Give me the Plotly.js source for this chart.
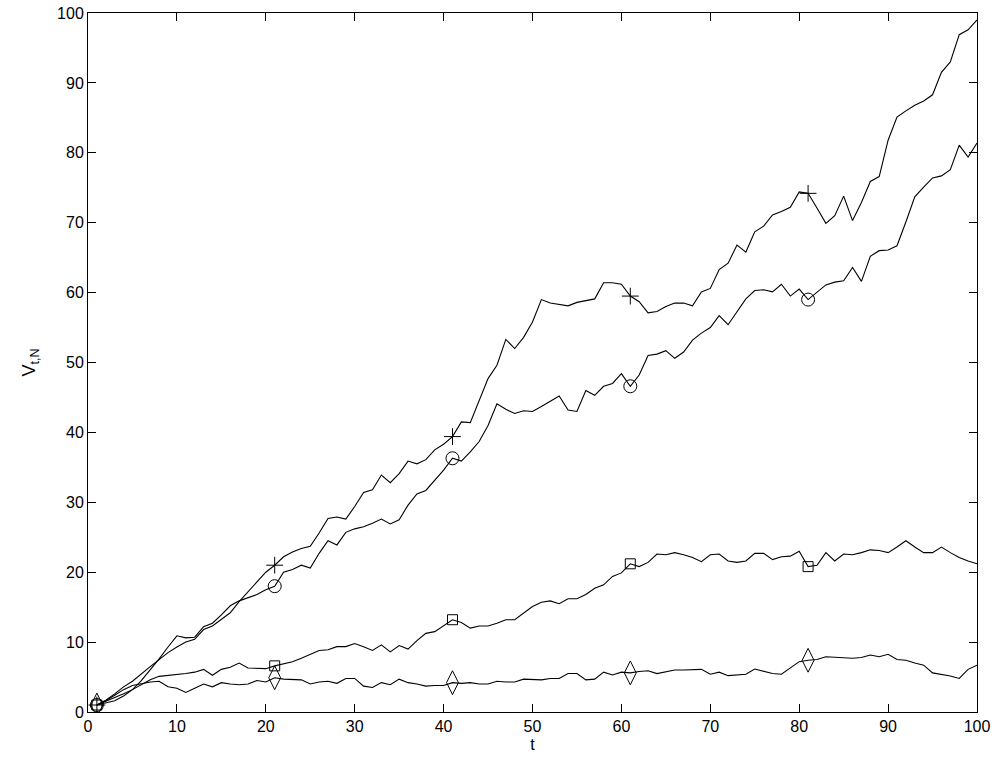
<!DOCTYPE html>
<html>
<head>
<meta charset="utf-8">
<script src="https://cdn.plot.ly/plotly-3.0.1.min.js"></script>
<style>html,body{margin:0;padding:0;background:#fff;}#chart{width:994px;height:761px;}</style>
</head>
<body>
<div id="chart"></div>
<script>
// time steps t = 1..100
var t = [];
for (var i = 1; i <= 100; i++) t.push(i);

// series with "+" marker
var seriesPlus = [1,1.7,2.6,3.6,4.4,5.5,6.5,7.5,8.5,9.3,10.0,10.4,11.8,12.3,13.2,14.2,15.8,17.2,18.5,20.0,
  21.0,22.2,22.9,23.4,23.7,25.6,27.7,27.9,27.6,29.4,31.4,31.8,33.9,32.8,34.1,35.9,35.5,36.1,37.5,38.3,
  39.4,41.5,41.4,44.6,47.7,49.6,53.3,52.0,53.6,55.8,59.0,58.5,58.3,58.1,58.6,58.9,59.1,61.4,61.4,61.2,
  59.5,58.7,57.1,57.3,58.0,58.5,58.5,58.1,60.1,60.6,63.3,64.2,66.8,65.8,68.7,69.5,71.1,71.6,72.2,74.4,
  74.2,72.1,69.9,71.0,73.8,70.3,72.9,75.9,76.6,81.8,85.1,86.0,86.8,87.4,88.3,91.5,93.0,96.9,97.6,99.0];

// series with "o" marker
var seriesCircle = [1,1.3,1.6,2.3,3.2,4.5,6.0,7.6,9.3,10.9,10.6,10.7,12.2,12.7,13.9,15.2,15.9,16.4,16.8,17.5,
  18.0,20.0,20.4,21.0,20.6,22.7,24.5,23.9,25.7,26.2,26.5,27.0,27.6,26.9,27.5,29.6,31.2,31.7,33.2,34.6,
  36.3,35.9,37.2,38.7,41.0,44.1,43.3,42.7,43.1,43.0,43.7,44.4,45.2,43.2,43.0,46.0,45.3,46.6,47.0,48.4,
  46.6,48.2,51.0,51.2,51.7,50.6,51.5,53.2,54.2,55.0,56.7,55.4,57.3,59.1,60.3,60.4,60.1,61.2,59.5,60.5,
  59.0,60.1,61.1,61.5,61.7,63.6,61.6,65.2,66.0,66.1,66.7,70.1,73.7,75.1,76.4,76.7,77.6,81.1,79.4,81.4];

// series with square marker
var seriesSquare = [1,1.5,2.0,2.6,3.2,3.9,4.6,5.1,5.2,5.3,5.5,5.7,6.1,5.25,6.1,6.4,7.0,6.3,6.2,6.2,
  6.6,6.9,7.2,7.7,8.25,8.8,8.9,9.35,9.35,9.8,9.35,8.8,9.6,8.6,9.5,9.0,10.2,11.25,11.5,12.3,
  13.2,12.8,12.0,12.3,12.3,12.7,13.2,13.2,14.1,15.1,15.7,15.9,15.5,16.2,16.2,16.8,17.7,18.2,19.4,19.9,
  21.2,20.8,21.4,22.6,22.5,22.8,22.5,22.1,21.5,22.5,22.6,21.6,21.4,21.6,22.7,22.7,21.8,22.2,22.3,23.0,
  20.8,21.0,22.8,21.6,22.6,22.5,22.8,23.2,23.1,22.8,23.6,24.5,23.6,22.8,22.8,23.6,22.8,22.1,21.6,21.2];

// series with diamond marker
var seriesDiamond = [1,1.6,2.4,3.2,3.8,4.1,4.3,4.4,3.6,3.4,2.8,3.4,4.0,3.6,4.2,4.0,3.9,4.0,4.5,4.3,
  4.9,4.7,4.6,4.6,4.0,4.3,4.4,4.1,4.8,4.8,3.7,3.5,4.2,3.9,4.7,4.2,4.0,3.7,3.8,3.8,
  4.2,4.1,4.2,4.0,4.0,4.4,4.3,4.3,4.7,4.6,4.6,4.8,4.8,5.5,5.5,4.6,4.7,5.7,5.3,5.7,
  5.6,5.8,5.9,5.5,5.8,6.0,6.0,6.0,6.1,5.4,5.7,5.2,5.3,5.4,6.15,5.8,5.5,5.4,6.25,7.2,
  7.4,7.5,7.9,7.8,7.8,7.7,7.8,8.15,7.9,8.25,7.5,7.4,7.0,6.7,5.6,5.4,5.15,4.8,6.1,6.7];

// marker positions (every 20 steps starting at t = 1)
var markerIdx = [0, 20, 40, 60, 80];

var tickVals = [0,10,20,30,40,50,60,70,80,90,100];

function pick(arr) { return markerIdx.map(function (k) { return arr[k]; }); }

var lineStyle = {color: '#000', width: 1.1};
var traces = [];
var defs = [
  {y: seriesPlus, sym: 'cross-thin-open', size: 12},
  {y: seriesCircle, sym: 'circle-open', size: 13},
  {y: seriesSquare, sym: 'square-open', size: 10},
  {y: seriesDiamond, sym: 'diamond-tall-open', size: 17}
];
defs.forEach(function (d) {
  traces.push({x: t, y: d.y, mode: 'lines', line: lineStyle, hoverinfo: 'skip', showlegend: false});
});
defs.forEach(function (d) {
  traces.push({x: pick(t), y: pick(d.y), mode: 'markers', showlegend: false,
    marker: {symbol: d.sym, size: d.size, color: '#000', line: {color: '#000', width: 1}}});
});

var axisCommon = {
  range: [0, 100], tickvals: tickVals, ticks: 'inside', ticklen: 8, tickwidth: 1, tickcolor: '#000',
  showline: true, linecolor: '#000', linewidth: 1, mirror: 'ticks', showgrid: false, zeroline: false,
  tickfont: {family: 'Liberation Sans, Arial, sans-serif', size: 16, color: '#000'}
};

var layout = {
  width: 994, height: 761,
  margin: {l: 88, r: 17, t: 13, b: 49},
  paper_bgcolor: '#fff', plot_bgcolor: '#fff',
  xaxis: Object.assign({}, axisCommon, {
    title: {text: 't', standoff: 4, font: {family: 'Liberation Sans, Arial, sans-serif', size: 16, color: '#000'}}
  }),
  yaxis: Object.assign({}, axisCommon, {
    title: {text: 'V<sub>t,N</sub>', standoff: 16, font: {family: 'Liberation Sans, Arial, sans-serif', size: 18, color: '#000'}}
  })
};

Plotly.newPlot('chart', traces, layout, {displayModeBar: false, staticPlot: true});
</script>
</body>
</html>
